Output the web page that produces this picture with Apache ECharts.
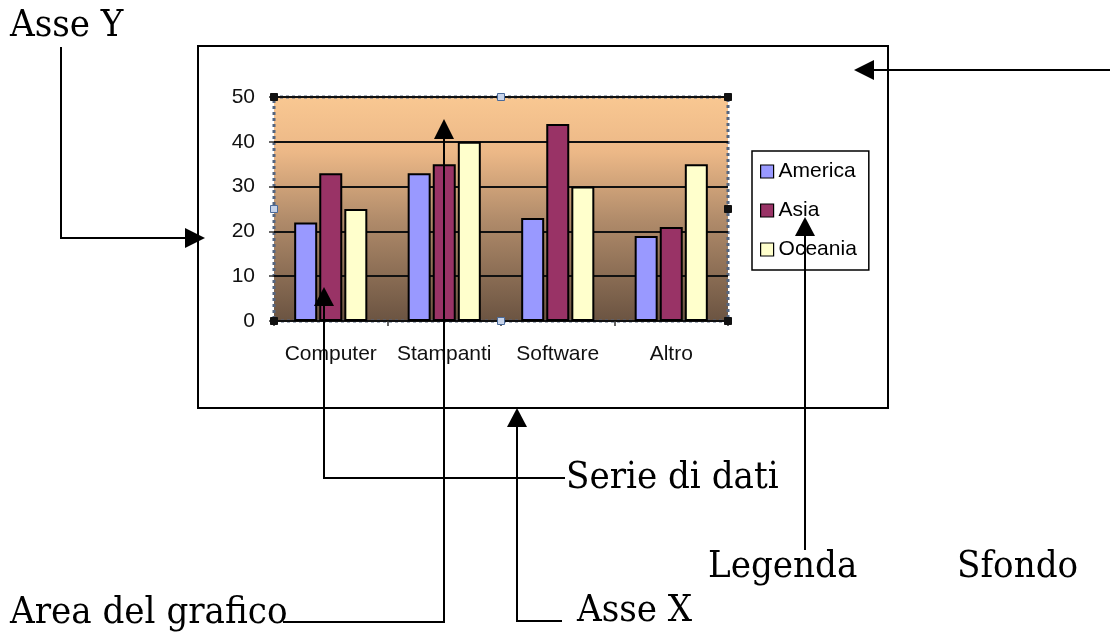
<!DOCTYPE html>
<html>
<head>
<meta charset="utf-8">
<style>
html,body{margin:0;padding:0;background:#fff;}
#c{width:1110px;height:634px;}
</style>
<script src="https://cdn.jsdelivr.net/npm/echarts@6/dist/echarts.min.js"></script>
</head>
<body>
<div id="c"></div>
<script>
const categories = ['Computer', 'Stampanti', 'Software', 'Altro'];
const seriesNames = ['America', 'Asia', 'Oceania'];
const america = [22, 33, 23, 19];
const asia = [33, 35, 44, 21];
const oceania = [25, 40, 30, 35];
const yTicks = [0, 10, 20, 30, 40, 50];
const seriesColors = ['#9999ff', '#993366', '#ffffcc'];
const annotationLabels = ['Asse Y', 'Serie di dati', 'Legenda', 'Sfondo', 'Area del grafico', 'Asse X'];

const chart = echarts.init(document.getElementById('c'), null, {renderer: 'canvas'});

const serifFont = '38px "DejaVu Serif Condensed", "DejaVu Serif", serif';
const sansFont = '"Liberation Sans", Arial, sans-serif';

function line(points) {
  return {type: 'polyline', z: 100, shape: {points: points}, style: {stroke: '#000', lineWidth: 2, fill: null}};
}
function tri(points) {
  return {type: 'polygon', z: 100, shape: {points: points}, style: {fill: '#000'}};
}
function label(text, x, y) {
  return {type: 'text', z: 100, style: {text: text, x: x, y: y, font: serifFont, fill: '#000', verticalAlign: 'middle', align: 'left'}};
}
function handle(x, y, dark) {
  return {type: 'rect', z: 50, shape: {x: x - 3.5, y: y - 3.5, width: 7, height: 7},
    style: {fill: dark ? '#111' : '#c8d4ea', stroke: dark ? '#111' : '#4a6a9a', lineWidth: 1}};
}

const gl = 274, gt = 97, gw = 454, gh = 224;

const option = {
  animation: false,
  backgroundColor: '#fff',
  grid: {
    left: gl, top: gt, width: gw, height: gh,
    show: true,
    backgroundColor: {
      type: 'linear', x: 0, y: 0, x2: 0, y2: 1,
      colorStops: [
        {offset: 0, color: '#f9c892'},
        {offset: 0.25, color: '#ecb887'},
        {offset: 0.55, color: '#b08b6a'},
        {offset: 1, color: '#6a5341'}
      ]
    },
    borderColor: '#55657e',
    borderWidth: 3,
    borderType: 'dotted'
  },
  legend: {
    orient: 'vertical',
    left: 752, top: 151,
    padding: [10, 12, 10, 8],
    backgroundColor: '#fff',
    borderColor: '#000',
    borderWidth: 1.5,
    borderRadius: 0,
    itemWidth: 13, itemHeight: 13,
    itemGap: 18,
    icon: 'rect',
    itemStyle: {borderColor: '#000', borderWidth: 1.2},
    textStyle: {fontFamily: sansFont, fontSize: 21, color: '#000', lineHeight: 20},
    data: seriesNames
  },
  xAxis: {
    type: 'category',
    data: categories,
    axisLine: {show: false},
    axisTick: {show: true, length: 5, inside: false, lineStyle: {color: '#333', width: 1.5}},
    axisLabel: {fontFamily: sansFont, fontSize: 21, color: '#111', margin: 23, interval: 0},
    splitLine: {show: false}
  },
  yAxis: {
    type: 'value',
    min: yTicks[0], max: yTicks[yTicks.length - 1], interval: 10,
    axisLine: {show: false},
    axisTick: {show: true, length: 5, lineStyle: {color: '#333', width: 1.5}},
    axisLabel: {fontFamily: sansFont, fontSize: 21, color: '#111', margin: 19},
    splitLine: {show: true, lineStyle: {color: '#111', width: 2}}
  },
  series: [america, asia, oceania].map((d, i) => ({
    name: seriesNames[i],
    type: 'bar',
    data: d,
    barWidth: 23,
    barGap: '9%',
    itemStyle: {color: seriesColors[i], borderColor: '#000', borderWidth: 2}
  })),
  graphic: [
    {type: 'rect', z: -10, shape: {x: 198, y: 46, width: 690, height: 362}, style: {fill: '#fff', stroke: '#000', lineWidth: 2}},
    handle(gl, gt, true), handle(gl + gw / 2, gt, false), handle(gl + gw, gt, true),
    handle(gl, gt + gh / 2, false), handle(gl + gw, gt + gh / 2, true),
    handle(gl, gt + gh, true), handle(gl + gw / 2, gt + gh, false), handle(gl + gw, gt + gh, true),
    // Asse Y
    line([[61, 47], [61, 238], [186, 238]]), tri([[185, 228], [205, 238], [185, 248]]),
    // Sfondo arrow
    line([[874, 70], [1110, 70]]), tri([[874, 60], [854, 70], [874, 80]]),
    // Serie di dati
    line([[565, 478], [324, 478], [324, 305]]), tri([[314, 306], [324, 287], [334, 306]]),
    // Area del grafico
    line([[283, 622], [444, 622], [444, 138]]), tri([[434, 139], [444, 119], [454, 139]]),
    // Asse X
    line([[562, 621], [517, 621], [517, 426]]), tri([[507, 427], [517, 408], [527, 427]]),
    // Legenda
    line([[805, 550], [805, 234]]), tri([[795, 236], [805, 217], [815, 236]]),
    label(annotationLabels[0], 10, 26),
    label(annotationLabels[1], 566, 478),
    label(annotationLabels[2], 708, 567),
    label(annotationLabels[3], 957, 567),
    label(annotationLabels[4], 10, 613),
    label(annotationLabels[5], 577, 611)
  ]
};
chart.setOption(option);
</script>
</body>
</html>
